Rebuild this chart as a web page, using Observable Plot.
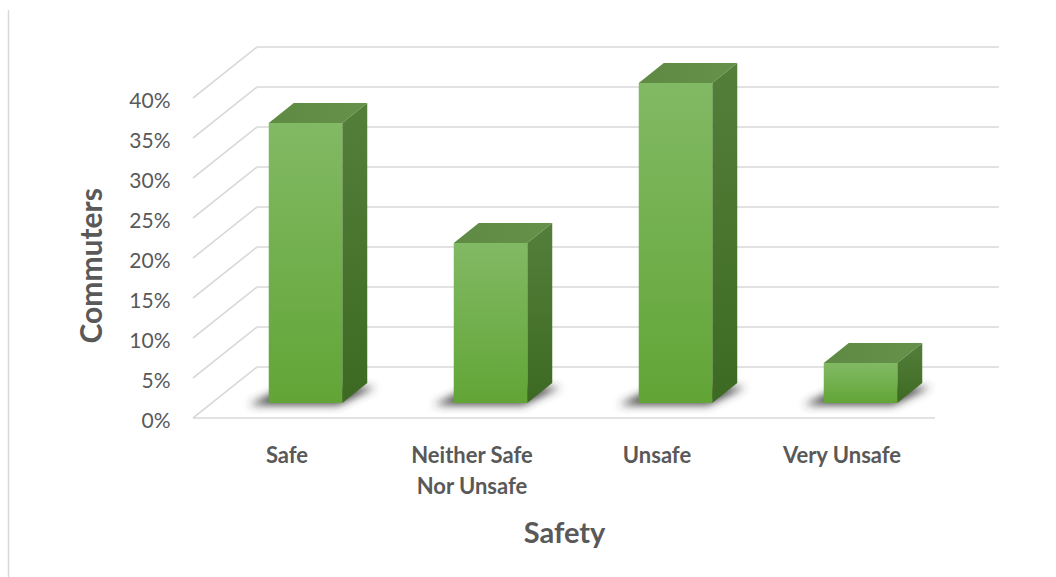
<!DOCTYPE html>
<html><head><meta charset="utf-8">
<script src="https://cdn.jsdelivr.net/npm/d3@7"></script>
<script src="https://cdn.jsdelivr.net/npm/@observablehq/plot@0.6"></script>
<style>
html,body{margin:0;padding:0;background:#fff;overflow:hidden}
#chart svg{display:block;font-family:Lato,"Open Sans",sans-serif}
</style></head><body><div id="chart"></div>
<script>
// ---- data ----
const categories = ["Safe", "Neither Safe\nNor Unsafe", "Unsafe", "Very Unsafe"];
const shares = [35, 20, 40, 5];
const yTicks = [0, 5, 10, 15, 20, 25, 30, 35, 40];
const yTickLabels = ["0%", "5%", "10%", "15%", "20%", "25%", "30%", "35%", "40%"];
const xTitle = "Safety";
const yTitle = "Commuters";

const data = categories.map((c, i) => ({category: c, share: shares[i]}));

// ---- 3D styling (pixels) ----
const DEPTH = [64, -51];   // floor / wall depth
const FRONT = [19, -15];   // bar front plane offset
const BAR = [25, -20];     // bar depth
const INSET = 55.75;       // bar inset within band
const GRID = "#d9d9d9";
const TEXT = "#595959";

function defs() {
  const g = d3.create("svg:defs");
  g.html(`
    <linearGradient id="gFront" x1="0" y1="0" x2="0" y2="1">
      <stop offset="0" stop-color="#82b964"/><stop offset="1" stop-color="#62a536"/>
    </linearGradient>
    <linearGradient id="gSide" x1="0" y1="0" x2="0" y2="1">
      <stop offset="0" stop-color="#547f3b"/><stop offset="1" stop-color="#3d6a22"/>
    </linearGradient>
    <linearGradient id="gTop" x1="0" y1="0" x2="1" y2="0">
      <stop offset="0" stop-color="#5f8a44"/><stop offset="1" stop-color="#66914b"/>
    </linearGradient>
    <filter id="blur" x="-50%" y="-50%" width="200%" height="200%">
      <feGaussianBlur stdDeviation="4"/>
    </filter>`);
  return g.node();
}

function walls(index, scales, values, dims) {
  const {x, y} = scales;
  const left = dims.marginLeft, right = dims.width - dims.marginRight;
  const g = d3.create("svg:g").attr("fill", "none").attr("stroke", GRID).attr("stroke-width", 1.6);
  for (const t of yTicks) {
    const yy = y(t);
    g.append("path").attr("d",
      `M${left},${yy}L${left + DEPTH[0]},${yy + DEPTH[1]}L${right + DEPTH[0]},${yy + DEPTH[1]}`);
  }
  g.append("path").attr("d", `M${left},${y(0)}L${right},${y(0)}`);
  return g.node();
}

function shadows(index, scales) {
  const {x, y} = scales;
  const bw = x(categories[1]) - x(categories[0]);
  const g = d3.create("svg:g").attr("filter", "url(#blur)").attr("fill", "#333").attr("fill-opacity", 0.9);
  data.forEach(d => {
    const x0 = x(d.category) + INSET + FRONT[0];
    const x1 = x0 + bw - 2 * INSET;
    const yb = y(0) + FRONT[1];
    g.append("path").attr("d",
      `M${x0 - 20},${yb + 2}L${x1 - 4},${yb + 2}L${x1 + BAR[0] + 8},${yb + BAR[1] + 4}L${x0 + BAR[0] - 8},${yb + BAR[1] + 4}Z`);
  });
  return g.node();
}

function faces(index, scales) {
  const {x, y} = scales;
  const bw = x(categories[1]) - x(categories[0]);
  const g = d3.create("svg:g");
  data.forEach(d => {
    const x0 = x(d.category) + INSET + FRONT[0];
    const x1 = x0 + bw - 2 * INSET;
    const yt = y(d.share) + FRONT[1];
    const yb = y(0) + FRONT[1];
    g.append("path").attr("fill", "url(#gTop)").attr("d",
      `M${x0},${yt}L${x0 + BAR[0]},${yt + BAR[1]}L${x1 + BAR[0]},${yt + BAR[1]}L${x1},${yt}Z`);
    g.append("path").attr("fill", "url(#gSide)").attr("d",
      `M${x1},${yt}L${x1 + BAR[0]},${yt + BAR[1]}L${x1 + BAR[0]},${yb + BAR[1]}L${x1},${yb}Z`);
  });
  return g.node();
}

const chart = Plot.plot({
  width: 1056,
  height: 577,
  marginLeft: 193,
  marginRight: 121,
  marginTop: 98,
  marginBottom: 159,
  style: {fontFamily: "Lato, 'Open Sans', sans-serif", background: "#fff", overflow: "visible"},
  x: {domain: categories, padding: 0, axis: null},
  y: {domain: [0, 40], axis: null},
  marks: [
    defs,
    walls,
    shadows,
    faces,
    Plot.barY(data, {x: "category", y: "share", fill: "url(#gFront)",
      insetLeft: INSET, insetRight: INSET, dx: FRONT[0], dy: FRONT[1]}),
    Plot.text(yTicks, {y: d => d, text: (d, i) => yTickLabels[i], frameAnchor: "left",
      textAnchor: "end", dx: -23, dy: 3, fontSize: 21, fill: TEXT}),
    Plot.text(categories, {x: d => d, frameAnchor: "bottom", lineAnchor: "top", dy: 22,
      lineHeight: 1.41, fontSize: 22, fontWeight: "bold", fill: TEXT}),
    Plot.text([xTitle], {frameAnchor: "bottom", dy: 124, fontSize: 29, fontWeight: "bold", fill: TEXT}),
    Plot.text([yTitle], {frameAnchor: "left", dx: -101, dy: 85, rotate: -90, fontSize: 30, fontWeight: "bold", fill: TEXT}),
    () => d3.create("svg:line").attr("x1", 8.5).attr("x2", 8.5).attr("y1", 10).attr("y2", 577)
      .attr("stroke", GRID).attr("stroke-width", 1.5).node()
  ]
});
document.getElementById("chart").append(chart);
</script></body></html>
